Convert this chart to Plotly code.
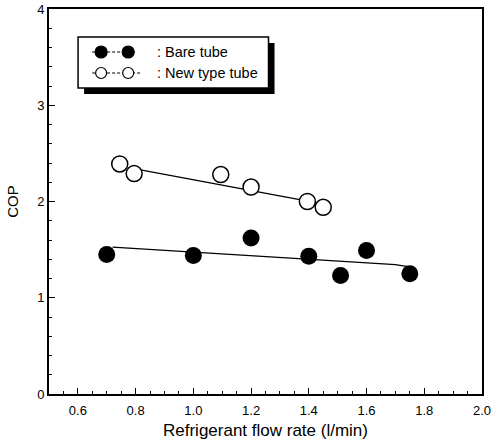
import plotly.graph_objects as go

# Measured COP against refrigerant flow rate
bare_flow = [0.70, 1.00, 1.20, 1.40, 1.51, 1.60, 1.75]
bare_cop = [1.45, 1.44, 1.62, 1.43, 1.23, 1.49, 1.25]

new_flow = [0.745, 0.795, 1.095, 1.20, 1.395, 1.45]
new_cop = [2.39, 2.29, 2.28, 2.15, 2.00, 1.94]

# Trend lines through each data set
bare_fit_flow = [0.72, 1.70, 1.76]
bare_fit_cop = [1.525, 1.345, 1.315]
new_fit_flow = [0.78, 1.41]
new_fit_cop = [2.35, 1.995]

x_ticks = [0.6, 0.8, 1.0, 1.2, 1.4, 1.6, 1.8, 2.0]
y_ticks = [0, 1, 2, 3, 4]

legend_names = [": Bare tube", ": New type tube"]

FONT = "Liberation Sans, Arial, sans-serif"

fig = go.Figure()

fig.add_trace(go.Scatter(x=bare_fit_flow, y=bare_fit_cop, mode="lines",
                         line=dict(color="black", width=1.3), showlegend=False))
fig.add_trace(go.Scatter(x=new_fit_flow, y=new_fit_cop, mode="lines",
                         line=dict(color="black", width=1.3), showlegend=False))
fig.add_trace(go.Scatter(x=bare_flow, y=bare_cop, mode="markers",
                         marker=dict(size=17, color="black", line=dict(width=0)),
                         showlegend=False))
fig.add_trace(go.Scatter(x=new_flow, y=new_cop, mode="markers",
                         marker=dict(size=16, color="white",
                                     line=dict(color="black", width=1.5)),
                         showlegend=False))

# Legend box with drop shadow (paper pixels -> data coords)
def px_x(p):
    return 0.5 + (p - 49) / 288.0

def px_y(p):
    return (394 - p) / 96.25

shapes = []
shapes.append(dict(type="rect", xref="x", yref="y",
                   x0=px_x(84), x1=px_x(274), y0=px_y(94), y1=px_y(43),
                   fillcolor="black", line=dict(width=0), layer="above"))
shapes.append(dict(type="rect", xref="x", yref="y",
                   x0=px_x(78), x1=px_x(268), y0=px_y(88), y1=px_y(37),
                   fillcolor="white", line=dict(color="black", width=1.5),
                   layer="above"))
rows = [52, 73]
for i, row in enumerate(rows):
    shapes.append(dict(type="line", xref="x", yref="y",
                       x0=px_x(92), x1=px_x(136 if i == 0 else 140),
                       y0=px_y(row), y1=px_y(row),
                       line=dict(color="black", width=1, dash="3px,2px"),
                       layer="above"))
    for cx in (101, 128):
        r = 6 if i == 0 else 5.5
        shapes.append(dict(type="circle", xref="x", yref="y",
                           x0=px_x(cx - r), x1=px_x(cx + r),
                           y0=px_y(row + r), y1=px_y(row - r),
                           fillcolor="black" if i == 0 else "white",
                           line=dict(color="black", width=1.2), layer="above"))

annotations = []
for name, row in zip(legend_names, rows):
    annotations.append(dict(x=px_x(155), y=px_y(row), xref="x", yref="y",
                            text=name, showarrow=False, xanchor="left",
                            yanchor="middle",
                            font=dict(family=FONT, size=14.5, color="black")))

fig.update_layout(
    width=499, height=444,
    margin=dict(l=49, r=17, t=9, b=50),
    paper_bgcolor="white", plot_bgcolor="white",
    font=dict(family=FONT, size=13, color="black"),
    shapes=shapes, annotations=annotations,
    showlegend=False,
)

fig.update_xaxes(
    range=[0.5, 2.0], tickmode="array", tickvals=x_ticks,
    ticktext=[f"{v:.1f}" for v in x_ticks],
    ticks="inside", ticklen=6, tickwidth=1.2, tickcolor="black",
    minor=dict(dtick=0.05, tick0=0.5, ticks="inside", ticklen=3,
               tickwidth=1, tickcolor="black"),
    showline=True, linecolor="black", linewidth=2, mirror=True,
    showgrid=False, zeroline=False, ticklabelstandoff=3, automargin=False,
    title=dict(text="Refrigerant flow rate (l/min)",
               font=dict(family=FONT, size=17), standoff=8),
    tickfont=dict(family=FONT, size=13),
)
fig.update_yaxes(
    range=[0, 4], tickmode="array", tickvals=y_ticks,
    ticks="inside", ticklen=6, tickwidth=1.2, tickcolor="black",
    minor=dict(dtick=0.2, tick0=0, ticks="inside", ticklen=3,
               tickwidth=1, tickcolor="black"),
    showline=True, linecolor="black", linewidth=2, mirror=True,
    showgrid=False, zeroline=False, automargin=False,
    title=dict(text="COP", font=dict(family=FONT, size=15), standoff=15),
    tickfont=dict(family=FONT, size=13),
)

fig.write_html("out.html")
